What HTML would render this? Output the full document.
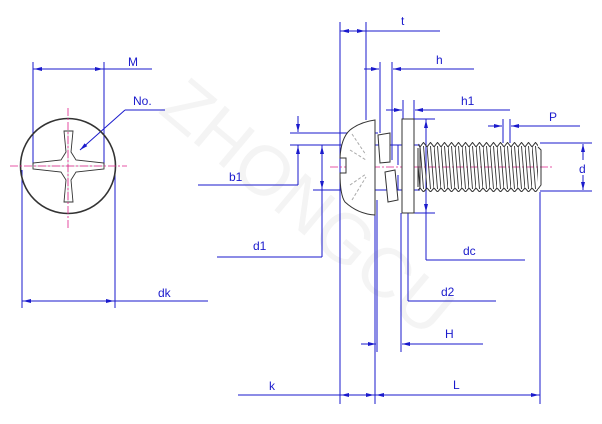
<!DOCTYPE html>
<html><head><meta charset="utf-8"><style>
html,body{margin:0;padding:0;background:#fff;}
svg{display:block;}
text{font-family:"Liberation Sans",sans-serif;font-size:12px;fill:#1a1acc;}
</style></head><body>
<svg width="602" height="424" viewBox="0 0 602 424" xmlns="http://www.w3.org/2000/svg">
<defs>
<marker id="a" markerWidth="8" markerHeight="6" refX="8" refY="3" orient="auto" markerUnits="userSpaceOnUse"><path d="M0,1 L8,3 L0,5z" fill="#1a1acc"/></marker>
<pattern id="th" x="420" y="0" width="7" height="424" patternUnits="userSpaceOnUse">
<path d="M0,146 L3.5,189 M3.5,146 L7,189" stroke="#333" stroke-width="0.9" fill="none"/>
<path d="M0,147 L3.5,142.5 L7,147 M0,188 L3.5,192 L7,188" stroke="#333" stroke-width="1" fill="none"/>
</pattern>
</defs>
<text x="110" y="160" transform="rotate(40 200 200)" style="font-size:70px;fill:#f4f4f4">ZHONGCU</text>

<g stroke="#1a1acc" stroke-width="1" fill="none">
<line x1="33" y1="62" x2="33" y2="166"/><line x1="104" y1="62" x2="104" y2="166"/>
<line x1="33" y1="69" x2="152" y2="69"/>
<line x1="104" y1="69" x2="34" y2="69" marker-end="url(#a)"/><line x1="33" y1="69" x2="103" y2="69" marker-end="url(#a)"/>
<line x1="125" y1="110" x2="165" y2="110"/><line x1="125" y1="110" x2="80" y2="150" marker-end="url(#a)"/>
<line x1="22" y1="170" x2="22" y2="308"/><line x1="115" y1="170" x2="115" y2="308"/>
<line x1="22" y1="301" x2="208" y2="301"/>
<line x1="60" y1="301" x2="23" y2="301" marker-end="url(#a)"/><line x1="80" y1="301" x2="114" y2="301" marker-end="url(#a)"/>
<line x1="340" y1="22" x2="340" y2="404"/><line x1="366" y1="22" x2="366" y2="120"/>
<line x1="340" y1="31" x2="440" y2="31"/>
<line x1="353" y1="31" x2="341" y2="31" marker-end="url(#a)"/><line x1="353" y1="31" x2="365" y2="31" marker-end="url(#a)"/>
<line x1="380" y1="62" x2="380" y2="133"/><line x1="392" y1="62" x2="392" y2="160"/>
<line x1="364" y1="69" x2="379" y2="69" marker-end="url(#a)"/><line x1="474" y1="69" x2="393" y2="69" marker-end="url(#a)"/>
<line x1="403" y1="100" x2="403" y2="119"/><line x1="414" y1="100" x2="414" y2="119"/>
<line x1="386" y1="110" x2="402" y2="110" marker-end="url(#a)"/><line x1="510" y1="110" x2="415" y2="110" marker-end="url(#a)"/>
<line x1="503" y1="119" x2="503" y2="143"/><line x1="510" y1="119" x2="510" y2="143"/>
<line x1="488" y1="126" x2="502" y2="126" marker-end="url(#a)"/><line x1="580" y1="126" x2="511" y2="126" marker-end="url(#a)"/>
<line x1="290" y1="133" x2="378" y2="133"/><line x1="290" y1="145" x2="420" y2="145"/>
<line x1="298" y1="116" x2="298" y2="132" marker-end="url(#a)"/><line x1="298" y1="160" x2="298" y2="146" marker-end="url(#a)"/>
<line x1="298" y1="145" x2="298" y2="185"/><line x1="198" y1="185" x2="298" y2="185"/>
<line x1="313" y1="190" x2="420" y2="190"/>
<line x1="322" y1="145" x2="322" y2="257"/><line x1="217" y1="257" x2="322" y2="257"/>
<line x1="322" y1="168" x2="322" y2="146" marker-end="url(#a)"/><line x1="322" y1="168" x2="322" y2="189" marker-end="url(#a)"/>
<line x1="540" y1="143" x2="592" y2="143"/><line x1="540" y1="191" x2="592" y2="191"/>
<line x1="583" y1="160" x2="583" y2="144" marker-end="url(#a)"/><line x1="583" y1="175" x2="583" y2="190" marker-end="url(#a)"/>
<line x1="414" y1="119" x2="435" y2="119"/><line x1="414" y1="213" x2="435" y2="213"/>
<line x1="426" y1="140" x2="426" y2="120" marker-end="url(#a)"/><line x1="426" y1="190" x2="426" y2="212" marker-end="url(#a)"/>
<line x1="426" y1="119" x2="426" y2="260"/><line x1="426" y1="260" x2="525" y2="260"/>
<line x1="398" y1="165" x2="398" y2="145" /><line x1="408" y1="145" x2="408" y2="301"/><line x1="408" y1="301" x2="496" y2="301"/>
<line x1="398" y1="175" x2="398" y2="190"/>
<line x1="377" y1="200" x2="377" y2="352"/><line x1="401" y1="213" x2="401" y2="352"/>
<line x1="361" y1="344" x2="376" y2="344" marker-end="url(#a)"/><line x1="483" y1="344" x2="402" y2="344" marker-end="url(#a)"/>
<line x1="375" y1="215" x2="375" y2="404"/><line x1="540" y1="192" x2="540" y2="404"/>
<line x1="238" y1="395" x2="540" y2="395"/>
<line x1="357" y1="395" x2="341" y2="395" marker-end="url(#a)"/><line x1="357" y1="395" x2="374" y2="395" marker-end="url(#a)"/>
<line x1="420" y1="395" x2="376" y2="395" marker-end="url(#a)"/><line x1="500" y1="395" x2="539" y2="395" marker-end="url(#a)"/>
</g>

<circle cx="68" cy="166" r="47.5" fill="none" stroke="#333" stroke-width="1.6"/>
<path d="M64,131 L73,131 L71,152 L76,160 L104,163 L104,169 L76,172 L71,180 L73,202 L64,202 L66,180 L61,172 L33,169 L33,163 L61,160 L66,152 Z" fill="none" stroke="#333" stroke-width="0.9"/>
<path d="M68,131 L68,202 M33,166 L104,166" stroke="#999" stroke-width="0.5"/>
<g stroke="#e0208a" stroke-width="0.8" stroke-dasharray="8,2,2,2">
<line x1="68" y1="108" x2="68" y2="228"/><line x1="10" y1="166" x2="127" y2="166"/>
<line x1="330" y1="167" x2="553" y2="167"/>
</g>

<g stroke="#333" stroke-width="1" fill="none">
<path d="M375,120 L375,215 Q358,214 345,202 Q340,195 340,173 L346,173 L346,158 L340,158 Q341,138 350,130 Q360,122 375,120 Z" fill="#fff"/>
<path d="M352,134 L366,155 M350,150 L366,160 M352,200 L366,177 M350,185 L366,174" stroke="#aaa" stroke-dasharray="3,2"/>
<path d="M378,135 L390,133 L390,162 L380,163 Z" fill="#fff"/>
<path d="M385,172 L395,170 L398,200 L388,202 Z" fill="#fff"/>
<rect x="402" y="119" width="12" height="94" fill="#fff"/>
<rect x="418" y="142" width="120" height="50" fill="url(#th)" stroke="none"/>
<path d="M420,146 L420,189 M418,148 L418,187 M538,147 L541,150 L541,185 L538,189"/>
</g>

<text x="128" y="66">M</text>
<text x="133" y="105">No.</text>
<text x="158" y="297">dk</text>
<text x="401" y="25">t</text>
<text x="436" y="64">h</text>
<text x="461" y="105">h1</text>
<text x="549" y="121">P</text>
<text x="579" y="173">d</text>
<text x="229" y="181">b1</text>
<text x="253" y="250">d1</text>
<text x="463" y="255">dc</text>
<text x="441" y="296">d2</text>
<text x="445" y="338">H</text>
<text x="269" y="390">k</text>
<text x="453" y="389">L</text>
</svg>
</body></html>
